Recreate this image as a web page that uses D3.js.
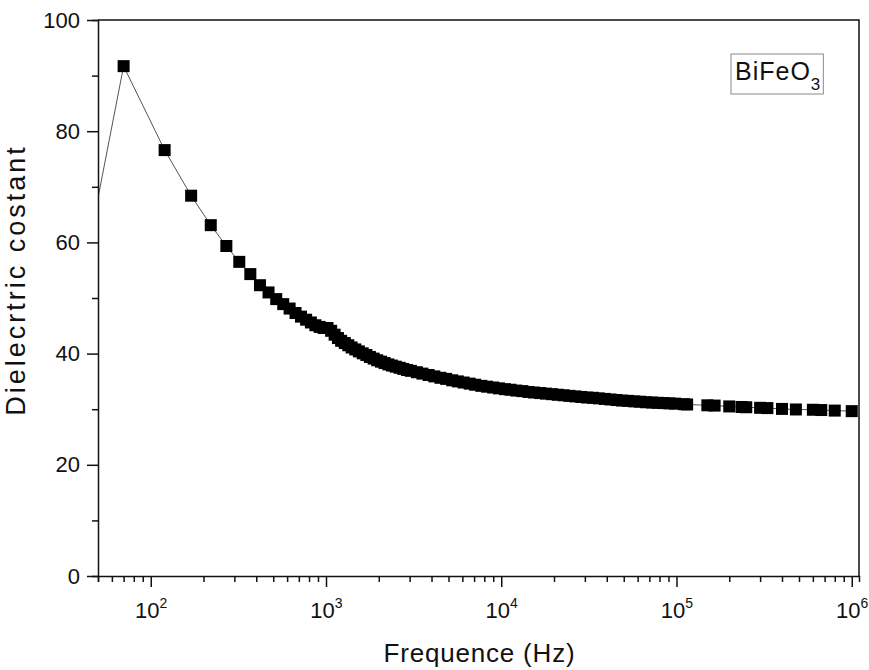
<!DOCTYPE html>
<html>
<head>
<meta charset="utf-8">
<script src="https://cdn.jsdelivr.net/npm/d3@7/dist/d3.min.js"></script>
<style>
body { margin: 0; background: #fff; }
svg text { font-family: "Liberation Sans", Arial, sans-serif; fill: #111; }
</style>
</head>
<body>
<svg id="chart" width="869" height="670"></svg>
<script>
// frequency (Hz) and dielectric constant
var freqs = [20, 70, 120, 170, 220, 270, 320, 370, 420, 470, 520, 570, 620, 670, 720, 770, 820, 870, 920, 970,
	1020, 1070, 1120, 1170, 1220, 1280, 1340, 1400, 1470, 1540, 1620, 1700, 1780, 1870, 1960, 2060, 2160, 2270,
	2380, 2500, 2630, 2760, 2900, 3050, 3300, 3550, 3850, 4150, 4500, 4850, 5250, 5650, 6100, 6600, 7100, 7700,
	8300, 9000, 9700, 10500, 11300, 12200, 13200, 14300, 15400, 16700, 18000, 19500, 21000, 22700, 24500, 26500,
	28600, 30900, 33400, 36000, 39000, 42000, 45500, 49000, 53000, 57500, 62000, 67000, 72500, 78000, 84500,
	91000, 98000, 110000, 115000, 150000, 165000, 200000, 235000, 250000, 300000, 330000, 400000, 480000,
	600000, 670000, 800000, 1000000];
var epsilon = [3.5, 91.7, 76.6, 68.4, 63.1, 59.35, 56.5, 54.3, 52.3, 51.0, 49.8, 48.9, 48.1, 47.3, 46.65, 46.1, 45.6, 45.1, 44.8, 44.6,
	44.6, 44.1, 43.4, 42.8, 42.3, 41.9, 41.5, 41.1, 40.75, 40.4, 40.05, 39.75, 39.4, 39.1, 38.8, 38.55, 38.3, 38.05,
	37.85, 37.65, 37.45, 37.25, 37.05, 36.9, 36.65, 36.4, 36.15, 35.9, 35.65, 35.45, 35.2, 35.0, 34.8, 34.6, 34.4, 34.2,
	34.05, 33.9, 33.75, 33.6, 33.5, 33.35, 33.25, 33.1, 33.0, 32.9, 32.8, 32.7, 32.6, 32.5, 32.4, 32.3,
	32.2, 32.1, 32.05, 31.95, 31.85, 31.75, 31.65, 31.55, 31.5, 31.4, 31.35, 31.25, 31.2, 31.15, 31.1,
	31.05, 31.0, 30.9, 30.85, 30.7, 30.65, 30.5, 30.4, 30.35, 30.25, 30.2, 30.05, 29.95,
	29.9, 29.85, 29.75, 29.65];
var xDomain = [50, 1.1e6];
var yDomain = [0, 100];
var yTicks = [0, 10, 20, 30, 40, 50, 60, 70, 80, 90, 100];
var yLabels = [0, 20, 40, 60, 80, 100];
var sampleName = 'BiFeO';
var sampleSub = '3';

var margin = {top: 20, right: 10, bottom: 94, left: 98};
var width = 869 - margin.left - margin.right,
	height = 670 - margin.top - margin.bottom;

var points = freqs.map(function(f, i) { return {f: f, v: epsilon[i]}; });

var svg = d3.select('#chart');
var g = svg.append('g').attr('transform', 'translate(' + margin.left + ',' + margin.top + ')');

var x = d3.scaleLog().domain(xDomain).range([0, width]);
var y = d3.scaleLinear().domain(yDomain).range([height, 0]);

svg.append('clipPath').attr('id', 'plot-clip')
	.append('rect').attr('width', width).attr('height', height);

// curve + markers
var plot = g.append('g').attr('clip-path', 'url(#plot-clip)');
plot.append('path')
	.datum(points)
	.attr('fill', 'none')
	.attr('stroke', '#555')
	.attr('stroke-width', 1)
	.attr('d', d3.line().x(d => x(d.f)).y(d => y(d.v)));
plot.selectAll('.marker')
	.data(points)
	.enter().append('rect')
	.attr('class', 'marker')
	.attr('x', d => x(d.f) - 6)
	.attr('y', d => y(d.v) - 6)
	.attr('width', 12)
	.attr('height', 12)
	.attr('fill', '#000');

// x axis (log, with minor ticks)
var isMajor = v => Math.abs(Math.log10(v) - Math.round(Math.log10(v))) < 1e-9;
var xAxis = g.append('g')
	.attr('transform', 'translate(0,' + height + ')')
	.call(d3.axisBottom(x).tickValues(x.ticks()).tickSize(6).tickFormat(''));
xAxis.selectAll('.tick line')
	.attr('y2', d => isMajor(d) ? 11 : 6);
xAxis.selectAll('.tick')
	.filter(d => isMajor(d))
	.append('text')
	.attr('y', 42)
	.attr('text-anchor', 'middle')
	.style('font-size', '22px')
	.each(function(d) {
		var t = d3.select(this);
		t.append('tspan').text('10');
		t.append('tspan').attr('dy', -10).style('font-size', '14px').text(Math.round(Math.log10(d)));
	});

// y axis
var yAxis = g.append('g')
	.call(d3.axisLeft(y).tickValues(yTicks).tickSize(6)
		.tickFormat(d => yLabels.indexOf(d) >= 0 ? d : ''));
yAxis.selectAll('.tick line')
	.attr('x2', d => yLabels.indexOf(d) >= 0 ? -11 : -6);
yAxis.selectAll('.tick text')
	.attr('x', -18)
	.style('font-size', '22px');

g.selectAll('.domain').attr('stroke', '#111').attr('stroke-width', 1.5);
g.selectAll('.tick line').attr('stroke', '#111').attr('stroke-width', 1.5);

// frame: top and right
g.append('path')
	.attr('d', 'M0,0H' + width + 'V' + height)
	.attr('fill', 'none')
	.attr('stroke', '#111')
	.attr('stroke-width', 1.5);

// axis titles
g.append('text')
	.attr('x', width / 2 + 1)
	.attr('y', height + 86)
	.attr('text-anchor', 'middle')
	.style('font-size', '26px')
	.style('letter-spacing', '0.8px')
	.text('Frequence (Hz)');
g.append('text')
	.attr('transform', 'translate(' + (-73) + ',' + (height / 2 - 18) + ')rotate(-90)')
	.attr('text-anchor', 'middle')
	.style('font-size', '27px')
	.style('letter-spacing', '3px')
	.text('Dielecrtric costant');

// sample label
var legend = g.append('g').attr('transform', 'translate(' + (width - 128) + ',34)');
var lt = legend.append('text')
	.attr('x', 4)
	.attr('y', 26)
	.style('font-size', '25px')
	.style('letter-spacing', '1px');
lt.append('tspan').text(sampleName);
lt.append('tspan').attr('dy', 10).style('font-size', '17px').text(sampleSub);
var bb = lt.node().getBBox();
legend.insert('rect', 'text')
	.attr('x', 0)
	.attr('y', 0)
	.attr('width', bb.x + bb.width + 2)
	.attr('height', 40)
	.attr('fill', 'none')
	.attr('stroke', '#888')
	.attr('stroke-width', 1);
</script>
</body>
</html>
